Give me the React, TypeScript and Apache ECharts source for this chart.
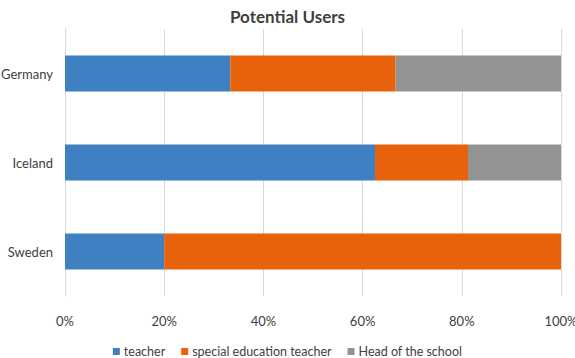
import React, { useEffect, useRef } from "react";
import * as echarts from "echarts";

const categories = ["Sweden", "Iceland", "Germany"];
const teacher = [20, 62.5, 33.33];
const specialEducationTeacher = [80, 18.75, 33.33];
const headOfTheSchool = [0, 18.75, 33.34];
const seriesNames = ["teacher", "special education teacher", "Head of the school"];
const colors = ["#3F80C2", "#E8620C", "#939393"];

const FONT = "Lato, 'Open Sans', sans-serif";

export default function App() {
  const ref = useRef<HTMLDivElement>(null);
  useEffect(() => {
    document.body.style.margin = "0";
    if (!ref.current) return;
    const chart = echarts.init(ref.current, undefined, { renderer: "svg" });
    const data = [teacher, specialEducationTeacher, headOfTheSchool];
    chart.setOption({
      animation: false,
      textStyle: { fontFamily: FONT },
      title: {
        text: "Potential Users",
        left: "center",
        top: 3,
        textStyle: { fontSize: 17, fontWeight: "bold", color: "#404040", fontFamily: FONT },
      },
      legend: {
        top: 340,
        left: "center",
        itemWidth: 7,
        itemHeight: 7,
        itemGap: 16,
        icon: "rect",
        textStyle: { fontSize: 12.5, color: "#404040", fontFamily: FONT, padding: [0, 0, 0, -1] },
        data: seriesNames,
      },
      grid: { left: 65, right: 14, top: 29, height: 267, containLabel: false, outerBoundsMode: "none" },
      xAxis: {
        type: "value",
        min: 0,
        max: 100,
        interval: 20,
        axisLabel: { formatter: "{value}%", fontSize: 13, color: "#404040", margin: 18, fontFamily: FONT },
        splitLine: { show: true, lineStyle: { color: "#D9D9D9", width: 1 } },
        axisLine: { show: false },
        axisTick: { show: false },
      },
      yAxis: {
        type: "category",
        data: categories,
        axisLabel: { fontSize: 13, color: "#404040", margin: 12, fontFamily: FONT },
        axisLine: { show: true, lineStyle: { color: "#D9D9D9" } },
        axisTick: { show: false },
      },
      series: seriesNames.map((name, i) => ({
        name,
        type: "bar",
        stack: "total",
        barWidth: 36,
        itemStyle: { color: colors[i] },
        data: data[i],
      })),
    });
    return () => chart.dispose();
  }, []);
  return <div ref={ref} style={{ width: 575, height: 358 }} />;
}
